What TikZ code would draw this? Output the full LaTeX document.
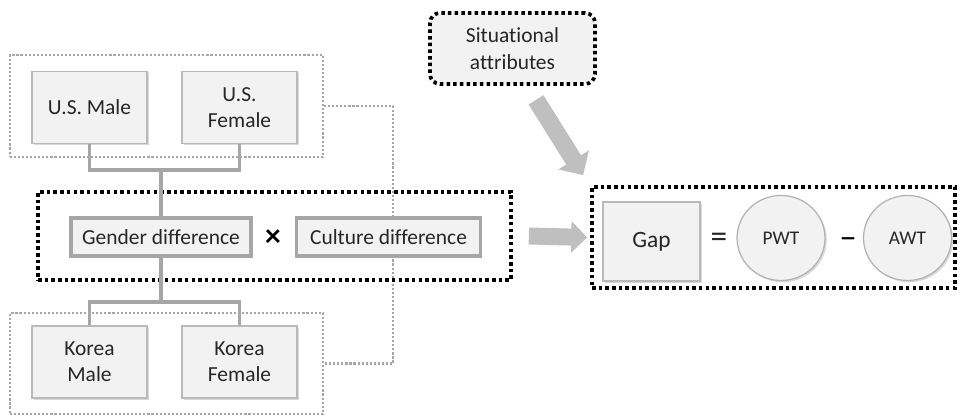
\documentclass[tikz,border=0pt]{standalone}
\usepackage{fontspec}
\setmainfont[Ligatures=NoCommon]{Carlito}
\usetikzlibrary{arrows.meta, shapes.geometric, shadows, fit, backgrounds, calc}

\begin{document}
\begin{tikzpicture}[
    font=\fontsize{12.2}{15}\selectfont, text=black!85,
    softshadow/.style={drop shadow={shadow xshift=1pt, shadow yshift=-1pt, opacity=0.3, fill=black!50}},
    box/.style={draw=gray!55, fill=gray!10, line width=0.7pt, minimum width=2.3cm, minimum height=1.44cm, align=center, softshadow},
    factorbox/.style={draw=gray!70, fill=gray!10, line width=2pt, minimum height=0.76cm, align=center, softshadow},
    groupline/.style={draw=gray!70, line width=1.3pt, dash pattern=on 1.2pt off 1.1pt},
    groupbox/.style={groupline, inner sep=0pt},
    framebox/.style={draw=black, line width=2.1pt, dash pattern=on 2pt off 1.8pt},
    sitbox/.style={framebox, fill=gray!10, rounded corners=0.2cm, minimum width=3.3cm, minimum height=1.42cm, inner sep=0pt, align=center},
    wtnode/.style={ellipse, draw=gray!60, fill=gray!10, line width=0.7pt, minimum width=1.76cm, minimum height=1.7cm, font=\fontsize{11}{13}\selectfont, softshadow},
    bus/.style={draw=gray!70, line width=2pt},
    fatarrow/.style={draw=gray!50, line width=0.34cm, -{Triangle[length=0.32cm, width=0.62cm]}}
]
\useasboundingbox (0,0) rectangle (19.18,8.32);

% subject groups
\node[box] (usmale)   at (1.79, 6.17) {U.S. Male};
\node[box] (usfemale) at (4.79, 6.17) {U.S.\\Female};
\node[box] (krmale)   at (1.79, 1.08) {Korea\\Male};
\node[box] (krfemale) at (4.79, 1.08) {Korea\\Female};
\node[groupbox, fit={(0.2,5.18) (6.46,7.22)}] (usgroup) {};
\node[groupbox, fit={(0.2,0.04) (6.46,2.06)}] (krgroup) {};

% interaction of the two factors
\node[factorbox, minimum width=3.6cm]  (gender)  at (3.22, 3.58) {Gender difference};
\node[font=\fontsize{18}{18}\selectfont\bfseries, text=black] (times) at (5.46, 3.56) {×};
\node[factorbox, minimum width=3.68cm] (culture) at (7.77, 3.58) {Culture difference};
\node[framebox, inner sep=0pt, fit={(0.76,2.72) (10.22,4.48)}] (leftframe) {};

% gap equation
\node[sitbox] (situation) at (10.25, 7.35) {Situational\\attributes};
\node[framebox, inner sep=0pt, fit={(11.84,2.56) (19.1,4.58)}] (gapframe) {};
\node[box, minimum width=1.94cm, minimum height=1.58cm, font=\fontsize{13.3}{16}\selectfont] (gap) at (13.03, 3.49) {Gap};
\node[font=\fontsize{19}{19}\selectfont] (equals) at (14.38, 3.52) {=};
\node[wtnode] (pwt) at (15.62, 3.56) {PWT};
\node[font=\fontsize{20}{20}\selectfont, text=black] (minus) at (16.96, 3.46) {–};
\node[wtnode] (awt) at (18.15, 3.56) {AWT};

% gender links
\coordinate (topbus) at (gender.north |- 0,4.92);
\coordinate (botbus) at (gender.south |- 0,2.28);
\draw[bus] (usmale.south) |- (topbus) -| (usfemale.south);
\draw[bus] (topbus) -- (gender.north);
\draw[bus] (gender.south) -- (botbus);
\draw[bus] (krmale.north) |- (botbus) -| (krfemale.north);

% culture link, behind the boxes
\coordinate (culturelink) at (7.86, 3.58);
\begin{scope}[on background layer]
\draw[groupline] (usgroup.east) -| (culturelink) |- (krgroup.east);
\end{scope}

% block arrows
\draw[fatarrow] ([xshift=0.32cm]leftframe.east) -- ([xshift=-0.06cm]gapframe.west);
\draw[fatarrow, line width=0.35cm, -{Triangle[length=0.36cm, width=0.7cm]}]
    ([shift={(0.47,-0.28)}]situation.south) -- ([shift={(-0.14,0.2)}]gapframe.north west);
\end{tikzpicture}
\end{document}
